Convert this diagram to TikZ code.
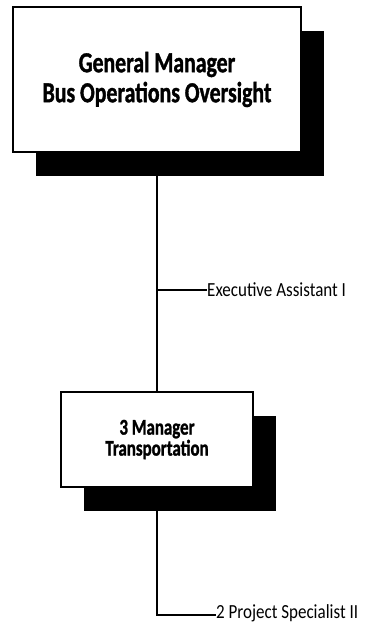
\documentclass[tikz,border=0pt]{standalone}
\usepackage{fontspec}
\setmainfont{Carlito}[FakeStretch=0.75,BoldFeatures={FakeBold=1.2}]
\newfontfamily\stafffont{Carlito}[FakeStretch=0.85]
\usetikzlibrary{shadows}
\begin{document}
\begin{tikzpicture}[x=1pt,y=-1pt,
  orgbox/.style={draw=black,line width=1.3pt,fill=white,inner sep=0pt,
    align=center,font=\bfseries,
    drop shadow={shadow xshift=23pt,shadow yshift=-24pt,fill=black,opacity=1}},
  link/.style={line width=2pt,draw=black},
  staff/.style={anchor=base west,inner sep=0pt,font=\stafffont\fontsize{20}{24}\selectfont}]
\useasboundingbox (0,0) rectangle (364,628);
% positions
\node[orgbox,minimum width=288pt,minimum height=145pt,
  font=\bfseries\fontsize{29}{30}\selectfont] (gm) at (157,79.5)
  {General Manager\\Bus Operations Oversight};
\node[orgbox,minimum width=192pt,minimum height=95pt,
  font=\bfseries\fontsize{22.5}{21}\selectfont] (mt) at (157,439.5)
  {3 Manager\\Transportation};
% staff attached to the reporting lines
\coordinate (ea) at (157,290);
\coordinate (ps) at (157,614.5);
\node[staff] (eal) at (207,296.5) {Executive Assistant I};
\node[staff] (psl) at (216,618.5) {2 Project Specialist II};
% reporting lines
\draw[link] (gm.south) -- (mt.north);
\draw[link] (ea) -- (ea -| eal.west);
\draw[link] (mt.south) -- (ps) -- (ps -| psl.west);
\end{tikzpicture}
\end{document}
